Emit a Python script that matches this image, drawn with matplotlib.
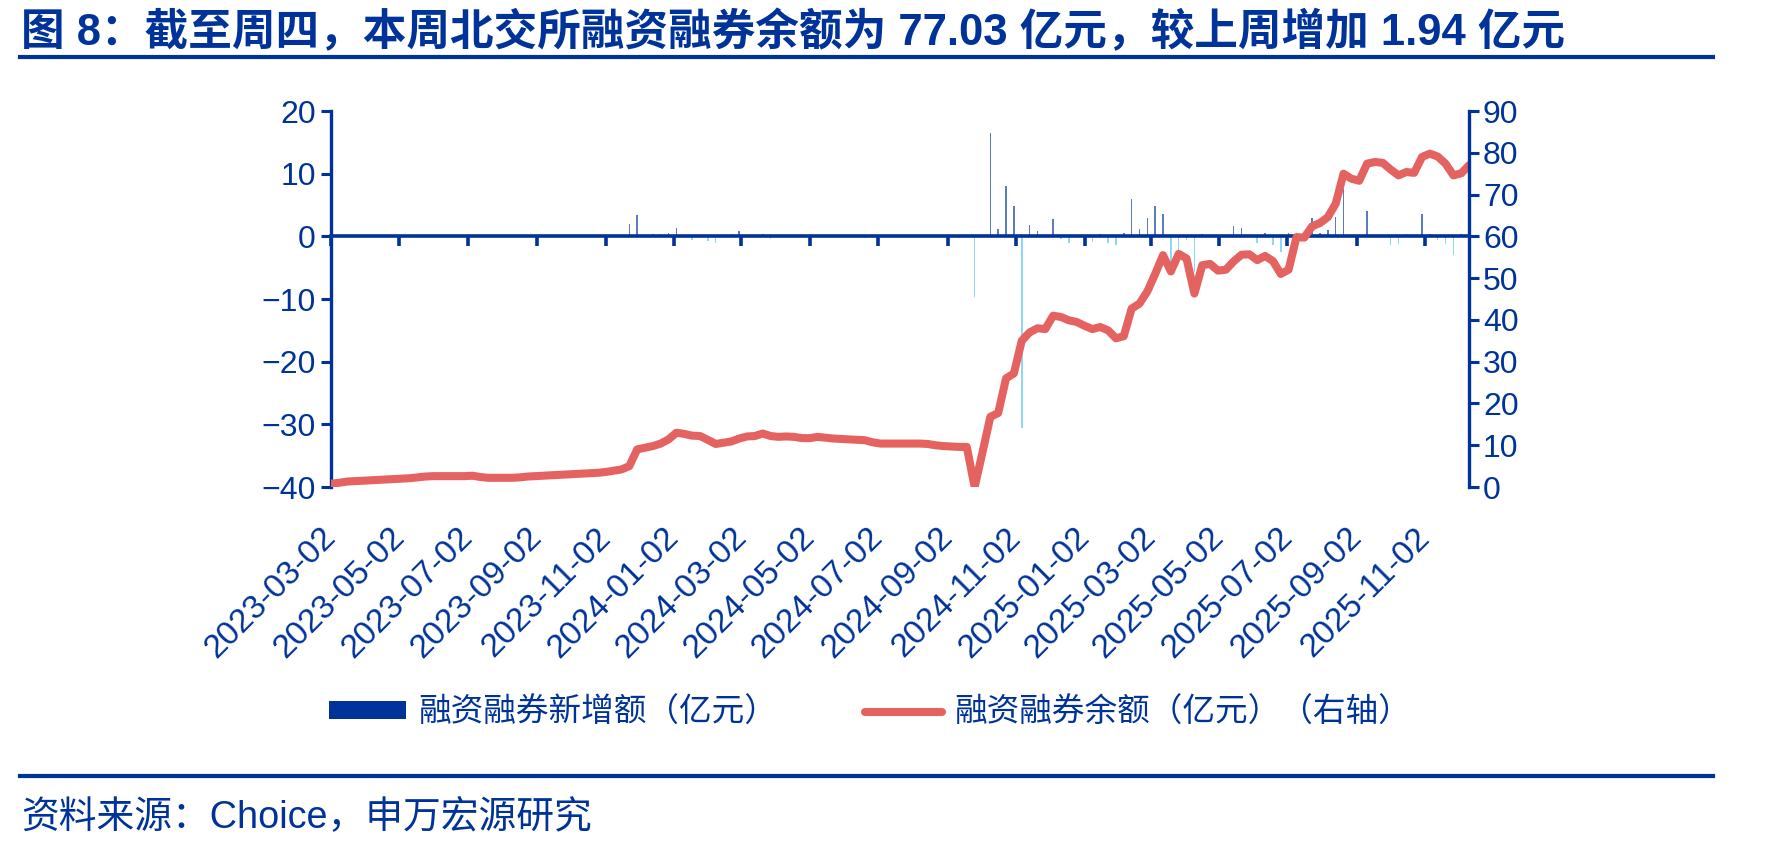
import matplotlib
matplotlib.use('Agg')
import matplotlib.pyplot as plt
from matplotlib.lines import Line2D
from matplotlib.patches import Patch
import pandas as pd

plt.rcParams['font.family'] = ['Liberation Sans', 'Noto Sans CJK SC']

navy = '#003399'
red = '#e46361'
pos_color = '#5b7cc2'
neg_color = '#8cd8f6'

title = '图 8：截至周四，本周北交所融资融券余额为 77.03 亿元，较上周增加 1.94 亿元'
source = '资料来源：Choice，申万宏源研究'
bar_label = '融资融券新增额（亿元）'
line_label = '融资融券余额（亿元）（右轴）'

# weekly data, Thursdays
weeks = pd.date_range('2023-03-02', '2025-12-11', freq='7D')

# 融资融券余额 (right axis)
balance = [
    0.8, 1.0, 1.3, 1.4, 1.5, 1.6, 1.7, 1.8, 1.9, 2.0,
    2.1, 2.3, 2.5, 2.6, 2.6, 2.6, 2.6, 2.6, 2.7, 2.4,
    2.2, 2.2, 2.2, 2.2, 2.3, 2.5, 2.6, 2.7, 2.8, 2.9,
    3.0, 3.1, 3.2, 3.3, 3.4, 3.6, 3.9, 4.2, 5.0, 9.0,
    9.4, 9.8, 10.4, 11.4, 13.0, 12.7, 12.3, 12.2, 11.3, 10.3,
    10.6, 10.9, 11.6, 12.1, 12.2, 12.8, 12.2, 12.0, 12.1, 12.0,
    11.7, 11.7, 12.0, 11.8, 11.6, 11.5, 11.4, 11.3, 11.2, 10.7,
    10.4, 10.4, 10.4, 10.4, 10.4, 10.4, 10.3, 10.0, 9.8, 9.7,
    9.6, 9.6, 0.0, 8.3, 16.8, 17.7, 26.0, 27.2, 35.0, 37.0,
    38.0, 37.8, 41.0, 40.7, 39.9, 39.5, 38.6, 37.8, 38.3, 37.5,
    35.6, 36.1, 42.7, 43.9, 46.8, 51.0, 55.5, 51.6, 55.8, 54.7,
    46.3, 53.1, 53.4, 51.8, 52.0, 54.0, 55.6, 55.7, 54.3, 55.3,
    54.1, 51.0, 52.0, 59.8, 59.7, 62.4, 63.2, 64.6, 67.8, 75.0,
    73.8, 73.3, 77.4, 77.8, 77.6, 76.0, 74.6, 75.4, 75.2, 79.0,
    79.8, 79.1, 77.4, 74.6, 75.09, 77.03,
]

# 融资融券新增额 (left axis)
change = [
    0, 0, 0, 0, 0, 0, 0, 0, 0, 0,
    0, 0, 0, 0, 0, 0, 0, 0, 0, 0,
    0, 0, 0, 0, 0, 0, 0, 0, 0, 0,
    0, 0, 0, 0, 0, 0, 0, 0, 2.0, 3.4,
    0, 0.3, 0.4, 0.6, 1.4, -0.3, -0.6, 0, -0.7, -1.1,
    0, 0.4, 0.8, 0, 0, 0.3, -0.5, 0, 0, 0,
    0, 0, 0, -0.3, 0, 0, 0, 0, -0.3, -0.3,
    0, 0, 0, 0, 0, 0, 0, 0, 0, 0,
    -0.3, 0, -9.7, 0, 16.5, 1.1, 8.0, 4.8, -30.6, 1.8,
    0.9, 0, 2.8, -0.4, -1.0, 0, 0, -0.9, 0.3, -1.0,
    -1.4, 0.6, 6.0, 1.2, 2.9, 4.9, 3.5, -4.9, -2.8, -0.6,
    -5.7, 0.3, 0, 0, 0, 1.6, 1.3, 0, -1.1, 0.6,
    -1.4, -2.5, 0.6, 0.5, 0, 2.9, 0.6, 1.0, 3.1, 7.6,
    0, 0, 4.0, 0, 0, -1.4, -1.2, 0.3, 0, 3.5,
    0.3, -0.6, -1.3, -3.0, 0.3, 1.94,
]

tick_dates = pd.date_range('2023-03-02', '2025-11-02', freq=pd.DateOffset(months=2))

fig = plt.figure(figsize=(17.79, 8.52), dpi=100)
ax = fig.add_axes([0.1861, 0.4284, 0.6397, 0.4413])

colors = [pos_color if v >= 0 else neg_color for v in change]
ax.bar(weeks, change, width=1.4, color=colors, linewidth=0, zorder=1)
ax.set_ylim(-40, 20)
ax.set_yticks(range(-40, 21, 10))
ax.set_xlim(weeks[0], weeks[-1])

for s in ['top', 'right', 'bottom']:
    ax.spines[s].set_visible(False)
ax.spines['left'].set_color(navy)
ax.spines['left'].set_linewidth(2.4)
ax.tick_params(axis='y', colors=navy, labelsize=23, length=7, width=2.2, pad=4)

# date labels at the bottom, tick marks on the zero line
ax.set_xticks(tick_dates)
ax.set_xticklabels([d.strftime('%Y-%m-%d') for d in tick_dates])
ax.tick_params(axis='x', length=0, colors=navy, labelsize=24, pad=33)
plt.setp(ax.get_xticklabels(), rotation=45, ha='right', va='center', rotation_mode='anchor')

zero_axis = ax.secondary_xaxis(2 / 3)
zero_axis.set_alignment('bottom')
zero_axis.set_xticks(tick_dates)
zero_axis.set_xticklabels([])
zero_axis.tick_params(axis='x', direction='out', length=7, width=2.6, colors=navy)
zero_axis.spines['bottom'].set_color(navy)
zero_axis.spines['bottom'].set_linewidth(2.6)
zero_axis.set_zorder(5)

ax2 = ax.twinx()
ax2.plot(weeks, balance, color=red, linewidth=5.8, solid_joinstyle='round', solid_capstyle='round')
ax2.set_ylim(0, 90)
ax2.set_yticks(range(0, 91, 10))
for s in ['top', 'left', 'bottom']:
    ax2.spines[s].set_visible(False)
ax2.spines['right'].set_color(navy)
ax2.spines['right'].set_linewidth(2.4)
ax2.tick_params(axis='y', colors=navy, labelsize=23, length=7, width=2.2, pad=3)
ax2.set_xlim(weeks[0], weeks[-1])

handles = [Patch(facecolor=navy, edgecolor='none'),
           Line2D([], [], color=red, linewidth=5.8, solid_capstyle='round')]
leg = fig.legend(handles, [bar_label, line_label], loc='center left',
                 bbox_to_anchor=(0.185, 0.163), ncol=2, frameon=False,
                 fontsize=23.5, handlelength=2.36, handleheight=0.43,
                 handletextpad=0.37, columnspacing=2.7, borderpad=0, borderaxespad=0)
for t in leg.get_texts():
    t.set_color(navy)

fig.text(0.012, 0.962, title, fontsize=31.4, fontweight='bold', color=navy, va='center', ha='left')
fig.add_artist(Line2D([0.011, 0.963], [0.933, 0.933], color=navy, linewidth=3))
fig.add_artist(Line2D([0.011, 0.963], [0.089, 0.089], color=navy, linewidth=3))
fig.text(0.012, 0.041, source, fontsize=27.2, color=navy, va='center', ha='left')

fig.savefig('out.png', dpi=100)
